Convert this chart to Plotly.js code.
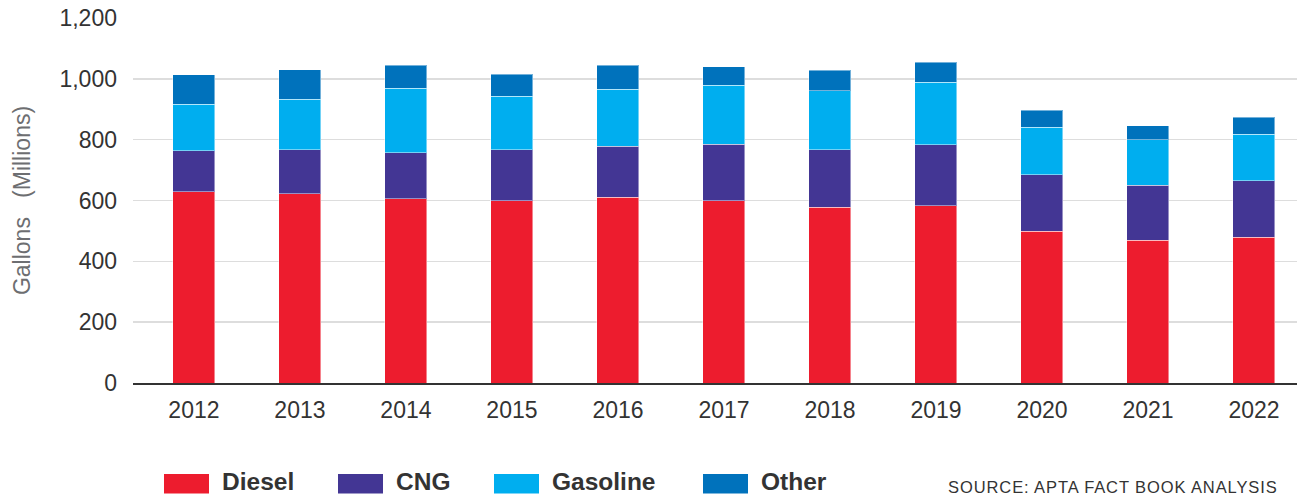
<!DOCTYPE html>
<html>
<head>
<meta charset="utf-8">
<script src="https://cdn.plot.ly/plotly-3.0.1.min.js"></script>
<style>
  html, body { margin: 0; padding: 0; background: #fff; }
  #chart { width: 1297px; height: 496px; }
</style>
</head>
<body>
<div id="chart"></div>
<script>
// ---- data ----
const years = ["2012","2013","2014","2015","2016","2017","2018","2019","2020","2021","2022"];
const diesel   = [629, 623, 605, 600, 610, 600, 578, 582, 499, 470, 480];
const cng      = [134, 144, 152, 167, 169, 185, 189, 202, 185, 180, 185];
const gasoline = [154, 166, 212, 176, 187, 194, 194, 204, 157, 150, 153];
const other    = [ 96,  97,  75,  72,  78,  61,  68,  66,  55,  45,  56];
const seriesNames = ["Diesel", "CNG", "Gasoline", "Other"];
const yTickVals = [0, 200, 400, 600, 800, 1000, 1200];
const yTickText = ["0", "200", "400", "600", "800", "1,000", "1,200"];
const sourceText = "SOURCE: APTA FACT BOOK ANALYSIS";
const yTitle = "Gallons\u00a0\u00a0 (Millions)";

// ---- styles ----
const colors = ["#ED1C2E", "#433694", "#00AEEF", "#0072BC"];
const FONT = "'Liberation Sans', Arial, Helvetica, sans-serif";
const W = 1297, H = 496;
const L = 133, R = 1297, T = 18, B = 383;
const px = x => (x - L) / (R - L);
const py = y => (B - y) / (B - T);

const seriesValues = [diesel, cng, gasoline, other];
const traces = seriesValues.map((vals, i) => ({
  type: "bar",
  name: seriesNames[i],
  x: years,
  y: vals,
  marker: { color: colors[i], line: { color: "rgba(255,255,255,0.45)", width: 1 } },
  hoverinfo: "x+y+name",
  showlegend: false
}));

// manual legend (swatch + label) to match the reference's wide swatches
const swatchX = [164, 338, 494, 703];
const swW = 45, swTop = 474, swBot = 493.5;
const shapes = [];
const annotations = [];
seriesNames.forEach((n, i) => {
  shapes.push({
    type: "rect", xref: "paper", yref: "paper",
    x0: px(swatchX[i]), x1: px(swatchX[i] + swW),
    y0: py(swBot), y1: py(swTop),
    fillcolor: colors[i], line: { width: 0 }
  });
  annotations.push({
    xref: "paper", yref: "paper",
    x: px(swatchX[i] + swW + 11), y: py(481.5),
    xanchor: "left", yanchor: "middle",
    text: n, showarrow: false,
    font: { family: FONT, size: 24.5, color: "#333333", weight: 700 }
  });
});
annotations.push({
  xref: "paper", yref: "paper",
  x: px(1113), y: py(487),
  xanchor: "center", yanchor: "middle",
  text: sourceText, showarrow: false,
  font: { family: FONT, size: 16.5, color: "#333333" }
});

const layout = {
  width: W, height: H,
  margin: { l: L, r: W - R, t: T, b: H - B, pad: 0 },
  paper_bgcolor: "#ffffff",
  plot_bgcolor: "#ffffff",
  barmode: "stack",
  bargap: 0.604,
  showlegend: false,
  font: { family: FONT, color: "#333333" },
  xaxis: {
    type: "category",
    range: [-0.575, 10.406],
    showgrid: false,
    showline: true,
    linecolor: "#333333",
    linewidth: 1.5,
    ticks: "",
    tickfont: { family: FONT, size: 23, color: "#333333" },
    ticklabelstandoff: 6,
    fixedrange: true
  },
  yaxis: {
    range: [0, 1200],
    tickvals: yTickVals,
    ticktext: yTickText,
    showgrid: true,
    gridcolor: "#dddddd",
    gridwidth: 1.5,
    zeroline: false,
    showline: false,
    ticks: "",
    tickfont: { family: FONT, size: 23, color: "#333333" },
    ticklabelstandoff: 15,
    title: {
      text: yTitle,
      font: { family: FONT, size: 23, color: "#6d6e71" },
      standoff: 22
    },
    automargin: false,
    fixedrange: true
  },
  shapes: shapes,
  annotations: annotations
};

Plotly.newPlot("chart", traces, layout, { displayModeBar: false, staticPlot: true }).then(() => {
  document.querySelectorAll(".annotation-text").forEach(t => {
    if (t.textContent === sourceText) t.style.letterSpacing = "0.9px";
  });
});
</script>
</body>
</html>
